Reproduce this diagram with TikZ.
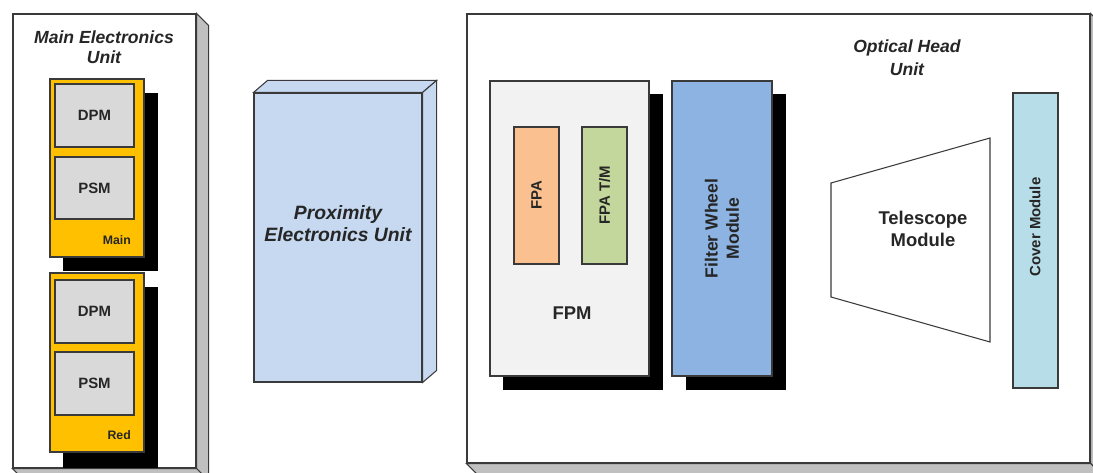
\documentclass[tikz,border=0pt]{standalone}
\usepackage{fontspec}
\setmainfont{Liberation Sans}
\usepackage{tikz}
\usetikzlibrary{fit,calc}

\definecolor{Edge}{HTML}{3A3A3A}
\definecolor{SideGray}{HTML}{C0C0C0}
\definecolor{CardOrange}{HTML}{FFC000}
\definecolor{ModGray}{HTML}{D9D9D9}
\definecolor{PeuBlue}{HTML}{C6D9F1}
\definecolor{FpmWhite}{HTML}{F2F2F2}
\definecolor{FpaOrange}{HTML}{FAC090}
\definecolor{FpaGreen}{HTML}{C3D69B}
\definecolor{FwBlue}{HTML}{8DB3E2}
\definecolor{CoverBlue}{HTML}{B7DDE8}

\tikzset{
  box/.style={draw=Edge,line width=0.6pt,inner sep=0pt},
  shadowbox/.style={fill=black,inner sep=0pt},
  label/.style={font=\fontsize{8.5}{10}\selectfont\bfseries,text=black!85},
  title/.style={font=\fontsize{10}{11.5}\selectfont\bfseries\itshape,text=black!85,align=center},
}

\begin{document}
\begin{tikzpicture}[x=0.02cm,y=-0.02cm]
        \useasboundingbox (0,0) rectangle (1093,473);
        \clip (0,0) rectangle (1093,473);

        % main electronics unit
        \node[box,fill=white,fit={(13,14) (196,468)}] (meu) {};
        \filldraw[draw=Edge,fill=SideGray,line width=0.6pt] (meu.north east) -- ++(12,12) -- ($(meu.south east)+(12,12)$) -- (meu.south east) -- cycle;
        \filldraw[draw=Edge,fill=SideGray,line width=0.6pt] (meu.south west) -- ++(12,12) -- ($(meu.south east)+(12,12)$) -- (meu.south east) -- cycle;
        \node[title] (meutitle) at (104,47) {Main Electronics\\Unit};

        % main and redundant cards
        \node[shadowbox,fit={(63,93) (158,271)}] (mainshadow) {};
        \node[box,fill=CardOrange,fit={(50,79) (144,257)}] (main) {};
        \node[box,fill=ModGray,fit={(55,84) (134,147)}] (dpm1) {};
        \node[box,fill=ModGray,fit={(55,157) (134,219)}] (psm1) {};
        \node[label,font=\fontsize{7}{8}\selectfont\bfseries,anchor=east] (mainlbl) at (137,240) {Main};

        \node[shadowbox,fit={(63,287) (158,468)}] (redshadow) {};
        \node[box,fill=CardOrange,fit={(50,273) (144,452)}] (red) {};
        \node[box,fill=ModGray,fit={(55,280) (134,343)}] (dpm2) {};
        \node[box,fill=ModGray,fit={(55,352) (134,415)}] (psm2) {};
        \node[label,font=\fontsize{7}{8}\selectfont\bfseries,anchor=east] (redlbl) at (137,435) {Red};

        \node[label] at (dpm1.center) {DPM};
        \node[label] at (psm1.center) {PSM};
        \node[label] at (dpm2.center) {DPM};
        \node[label] at (psm2.center) {PSM};

        % proximity electronics unit
        \node[box,fill=PeuBlue,fit={(254,93) (422,382)}] (peu) {};
        \filldraw[draw=Edge,fill=PeuBlue,line width=0.6pt] (peu.north west) -- ++(14,-12) -- ($(peu.north east)+(14,-12)$) -- (peu.north east) -- cycle;
        \filldraw[draw=Edge,fill=PeuBlue,line width=0.6pt] (peu.north east) -- ++(14,-12) -- ($(peu.south east)+(14,-12)$) -- (peu.south east) -- cycle;
        \node[title,font=\fontsize{11}{12.5}\selectfont\bfseries\itshape] (peutitle) at (338,224) {Proximity\\Electronics Unit};

        % optical head unit
        \node[box,fill=white,fit={(467,14) (1090,463)}] (ohu) {};
        \filldraw[draw=Edge,fill=SideGray,line width=0.6pt] (ohu.north east) -- ++(12,12) -- ($(ohu.south east)+(12,12)$) -- (ohu.south east) -- cycle;
        \filldraw[draw=Edge,fill=SideGray,line width=0.6pt] (ohu.south west) -- ++(12,12) -- ($(ohu.south east)+(12,12)$) -- (ohu.south east) -- cycle;
        \node[title,font=\fontsize{10}{13}\selectfont\bfseries\itshape] (ohutitle) at (907,58) {Optical Head\\Unit};

        % focal plane module
        \node[shadowbox,fit={(503,94) (663,390)}] (fpmshadow) {};
        \node[box,fill=FpmWhite,fit={(490,81) (649,376)}] (fpm) {};
        \node[box,fill=FpaOrange,fit={(514,127) (559,264)}] (fpa) {};
        \node[box,fill=FpaGreen,fit={(582,127) (627,264)}] (fpatm) {};
        \node[label,rotate=90] at (fpa.center) {FPA};
        \node[label,rotate=90] at (fpatm.center) {FPA T/M};
        \node[label,font=\fontsize{10.5}{12}\selectfont\bfseries] (fpmlbl) at (572,313) {FPM};

        % filter wheel
        \node[shadowbox,fit={(686,94) (786,390)}] (fwshadow) {};
        \node[box,fill=FwBlue,fit={(672,81) (772,376)}] (fw) {};
        \node[label,rotate=90,align=center,font=\fontsize{10}{12}\selectfont\bfseries] at (fw.center) {Filter Wheel\\Module};

        % telescope
        \coordinate (tlt) at (831,183);
        \coordinate (tlb) at (831,297);
        \coordinate (trt) at (990,138);
        \coordinate (trb) at (990,342);
        \filldraw[draw=Edge,fill=white,line width=0.6pt] (tlt) -- (trt) -- (trb) -- (tlb) -- cycle;
        \node[label,align=center,font=\fontsize{10.5}{12.5}\selectfont\bfseries] (tel) at (923,229) {Telescope\\Module};

        % cover
        \node[box,fill=CoverBlue,fit={(1013,93) (1058,388)}] (cover) {};
        \node[label,rotate=90] (coverlbl) at (1035,227) {Cover Module};
    \end{tikzpicture}
\end{document}
